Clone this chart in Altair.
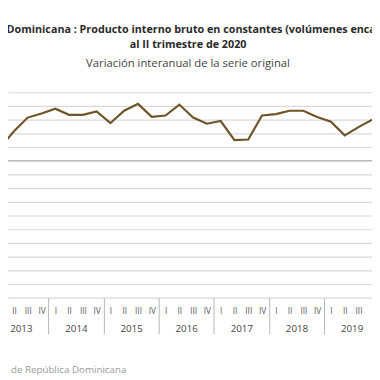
import altair as alt
import pandas as pd

years = [2013, 2014, 2015, 2016, 2017, 2018, 2019]
quarter_labels = ["I", "II", "III", "IV"]
growth = [
    1.9, 4.3, 6.3, 6.9,
    7.6, 6.7, 6.7, 7.2,
    5.5, 7.3, 8.3, 6.4,
    6.6, 8.2, 6.3, 5.4,
    5.8, 3.0, 3.1, 6.6,
    6.8, 7.3, 7.3, 6.4,
    5.7, 3.7, 4.9, 6.0,
]
title_lines = [
    "República Dominicana : Producto interno bruto en constantes (volúmenes encadenados)",
    "al II trimestre de 2020",
]
subtitle = "Variación interanual de la serie original"
source = "Fuente: Banco Central de República Dominicana"

rows = []
for yi, y in enumerate(years):
    for qi, q in enumerate(quarter_labels):
        idx = yi * 4 + qi
        rows.append({"i": idx, "year": y, "q": q, "v": growth[idx]})
df = pd.DataFrame(rows)

FONT = "Open Sans"
x_dom = [0.568, 26.98]
xs = alt.Scale(domain=x_dom, nice=False, zero=False)
ys = alt.Scale(domain=[-20, 10], nice=False)
y_axis = alt.Axis(
    values=list(range(-20, 11, 2)), title=None, labels=False, ticks=False,
    domain=False, grid=True, gridColor="#d9d9d9", gridWidth=1.2)

base = alt.Chart(df)

line = base.mark_line(color="#6f5428", strokeWidth=2.2, clip=True).encode(
    x=alt.X("i:Q", scale=xs, axis=alt.Axis(
        orient="bottom",
        values=list(range(28)), title=None, ticks=False, domain=False, grid=False,
        labelExpr="['I','II','III','IV'][datum.value % 4]",
        labelFont=FONT, labelFontSize=8.5, labelColor="#5a5a5a",
        labelBaseline="middle", labelPadding=13, labelFlush=False, labelOverlap=False)),
    y=alt.Y("v:Q", scale=ys, axis=y_axis),
)

year_axis = base.mark_point(opacity=0).encode(
    x=alt.X("i:Q", scale=xs, axis=alt.Axis(
        orient="bottom",
        values=[yi * 4 + 1.5 for yi in range(len(years))], title=None, ticks=False,
        domain=False, grid=False,
        labelExpr="'' + (%d + floor(datum.value / 4))" % years[0],
        labelFont=FONT, labelFontSize=10, labelColor="#444",
        labelBaseline="middle", labelPadding=32, labelFlush=False, labelOverlap=False)),
    y=alt.Y("v:Q", scale=ys, axis=y_axis),
)

sep_axis = base.mark_point(opacity=0).encode(
    x=alt.X("i:Q", scale=xs, axis=alt.Axis(
        orient="bottom",
        values=[yi * 4 + 3.5 for yi in range(len(years) - 1)], title=None, labels=False,
        ticks=True, tickSize=37, tickColor="#b5b5b5", tickWidth=1,
        domain=False, grid=False)),
    y=alt.Y("v:Q", scale=ys, axis=y_axis),
)

zero = alt.Chart(pd.DataFrame({"z": [0]})).mark_rule(color="#a8a8a8", strokeWidth=1).encode(
    y=alt.Y("z:Q", scale=ys, axis=y_axis)
)

src = alt.Chart(pd.DataFrame({"t": [source]})).mark_text(
    align="right", baseline="middle", font=FONT, fontSize=10, color="#9a9a9a"
).encode(text="t:N", x=alt.value(121), y=alt.value(284))

chart = alt.layer(zero, line, year_axis, sep_axis, src).resolve_scale(
    x="independent"
).resolve_axis(x="independent").properties(
    width=372,
    height=210,
    autosize=alt.AutoSizeParams(type="none"),
    padding={"left": 0, "top": 82, "right": 0, "bottom": 80},
    title=alt.TitleParams(
        text=title_lines, subtitle=subtitle, anchor="middle", dx=-2,
        font=FONT, fontSize=11, fontWeight="bold", color="#2a2a2a", lineHeight=15,
        subtitleFont=FONT, subtitleFontSize=11.5, subtitleColor="#444",
        subtitlePadding=9, offset=23,
    ),
).configure_view(stroke=None)

chart.save("out.html", embed_options={"renderer": "svg", "actions": False})
